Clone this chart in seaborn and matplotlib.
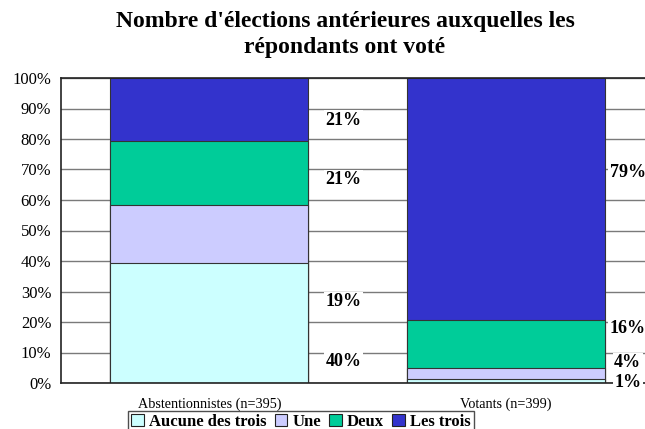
import matplotlib
matplotlib.use("Agg")
import matplotlib.pyplot as plt
import seaborn as sns
import pandas as pd
import numpy as np
from matplotlib.patches import Patch

sns.set_theme(style="white")
plt.rcParams['font.family'] = ['Liberation Serif', 'DejaVu Serif']
plt.rcParams['text.color'] = 'black'
plt.rcParams['xtick.color'] = 'black'
plt.rcParams['ytick.color'] = 'black'
plt.rcParams['axes.labelcolor'] = 'black'

categories = ["Abstentionnistes (n=395)", "Votants (n=399)"]
series = ["Aucune des trois", "Une", "Deux", "Les trois"]
aucune = [39.5, 1.2]
une = [18.8, 3.7]
deux = [21.0, 15.9]
les_trois = [20.7, 79.2]
colors = ["#CCFFFF", "#CCCCFF", "#00CC99", "#3333CC"]

# data labels: text, category index, label y (in %)
label_texts = [["40%", "19%", "21%", "21%"], ["1%", "4%", "16%", "79%"]]
label_y = [[6.9, 26.6, 66.6, 86.2], [0.3, 6.6, 18.0, 68.9]]
label_x = [0.452, 1.41]

title_lines = ["Nombre d'élections antérieures auxquelles les", "répondants ont voté"]

values = [aucune, une, deux, les_trois]
cum = np.cumsum(np.array(values), axis=0)

fig = plt.figure(figsize=(6.45, 4.29), dpi=100)
ax = fig.add_axes([61/645, 1-383/429, (654.5-61)/645, (383-78)/429])

# draw cumulative totals from the top layer down
for i in range(len(series)-1, -1, -1):
    df = pd.DataFrame({"cat": categories, "val": cum[i]})
    sns.barplot(data=df, x="cat", y="val", color=colors[i], width=0.667,
                edgecolor="#333333", linewidth=0.8, saturation=1, ax=ax, zorder=2)

ax.set_xlim(-0.5, 1.5)
ax.set_ylim(0, 100)
ax.set_yticks(np.arange(0, 101, 10))
ax.set_yticklabels([f"{v}%" for v in range(0, 101, 10)], fontsize=12)
ax.yaxis.grid(True, color="#7a7a7a", linewidth=1.0, zorder=0)
ax.set_axisbelow(True)

ax.set_xticks([-0.5, 0.5, 1.5])
ax.set_xticklabels(["", "", ""])
ax.set_xticks([0, 1], minor=True)
ax.set_xticklabels(categories, minor=True, fontsize=10.2)
ax.tick_params(axis="x", which="minor", length=0, pad=10.5)
ax.tick_params(axis="x", which="major", length=4, width=1, direction="out", color="#333333")
ax.tick_params(axis="y", length=4, width=1, direction="out", color="#333333", pad=3)
ax.set_xlabel("")
ax.set_ylabel("")

for s in ["left", "bottom", "top"]:
    ax.spines[s].set_visible(True)
    ax.spines[s].set_color("#222222")
    ax.spines[s].set_linewidth(1.2)
ax.spines["right"].set_visible(False)

for ci in range(len(categories)):
    for t, y in zip(label_texts[ci], label_y[ci]):
        ax.text(label_x[ci], y, t, ha="center", va="center", fontsize=13,
                fontweight="bold", zorder=3, color="black",
                bbox=dict(facecolor="white", edgecolor="none", pad=1))

fig.text(345/645, 1-22/429, title_lines[0], ha="center", va="center", fontsize=17,
         fontweight="bold", color="black")
fig.text(345/645, 1-48/429, title_lines[1], ha="center", va="center", fontsize=17,
         fontweight="bold", color="black")

handles = [Patch(facecolor=c, edgecolor="#222222", linewidth=0.8) for c in colors]
leg = fig.legend(handles, series, loc="upper left", bbox_to_anchor=(128/645, 1-410.5/429),
                 ncol=4, frameon=True, fancybox=False,
                 prop={"weight": "bold", "size": 12}, handlelength=0.75, handleheight=0.75,
                 handletextpad=0.3, columnspacing=0.5, borderpad=0.2, borderaxespad=0)
leg.get_frame().set_edgecolor("#222222")
leg.get_frame().set_linewidth(1.0)
for txt in leg.get_texts():
    txt.set_color("black")

fig.savefig("out.png", dpi=100)
